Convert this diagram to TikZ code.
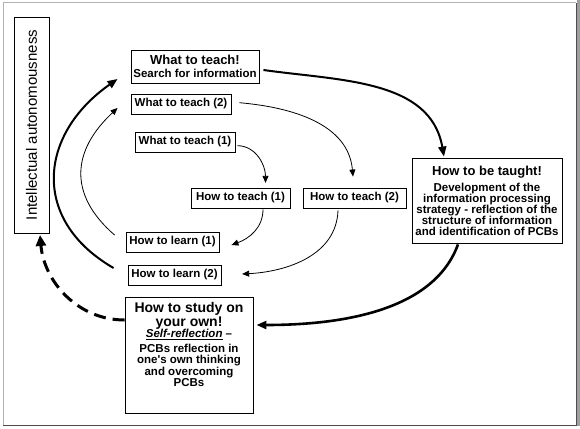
\documentclass[tikz,border=0pt]{standalone}
\usepackage{fontspec}
\setmainfont{Liberation Sans}
\usetikzlibrary{arrows.meta}
\begin{document}
\begin{tikzpicture}[x=1pt,y=1pt,
  box/.style={draw, line width=0.9pt, inner sep=0pt, align=center,
    font=\fontsize{11.5}{12.5}\selectfont\bfseries},
  thinarrow/.style={line width=0.8pt, -{Triangle[length=7pt,width=6pt]}},
  thickarrow/.style={line width=2pt, -{Triangle[length=10pt,width=8pt]}},
  dasharrow/.style={line width=3pt, dash pattern=on 12pt off 7pt, -{Triangle[length=11pt,width=10pt]}}]
\useasboundingbox (0,0) rectangle (580,-428);
% frame
\fill[gray!75] (576.5,0) rectangle (580,-426);
\draw[gray!60, line width=1pt] (3,-425) -- (3,-3) -- (576,-3);
\draw[black!70, line width=1pt] (3,-425) -- (576,-425) -- (576,-3);
% nodes
\node[draw, line width=0.9pt, rotate=90, minimum width=216pt, minimum height=35pt, inner sep=0pt,
  font=\fontsize{15}{17}\selectfont] (ia) at (31.5,-125) {Intellectual autonomousness};
\node[box, minimum width=128pt, minimum height=33pt] (wt0) at (195,-66.5)
  {{\fontsize{13}{14}\selectfont What to teach!}\\Search for information};
\node[box, minimum width=100pt, minimum height=20pt] (wt2) at (181,-104) {What to teach (2)};
\node[box, minimum width=100pt, minimum height=20pt] (wt1) at (185,-142) {What to teach (1)};
\node[box, minimum width=99pt, minimum height=20pt] (ht1) at (240.5,-198) {How to teach (1)};
\node[box, minimum width=103pt, minimum height=20pt] (ht2) at (354.5,-198) {How to teach (2)};
\node[box, minimum width=93pt, minimum height=20pt] (hl1) at (172.5,-242) {How to learn (1)};
\node[box, minimum width=93pt, minimum height=20pt] (hl2) at (174.5,-275) {How to learn (2)};
\node[box, minimum width=150pt, minimum height=85pt, font=\fontsize{11.5}{11}\selectfont\bfseries] (hbt) at (487,-200.5)
  {{\fontsize{13}{14}\selectfont How to be taught!}\\[4pt]Development of the\\information processing\\strategy - reflection of the\\structure of information\\and identification of PCBs};
\node[draw, line width=0.9pt, inner sep=0pt, minimum width=128pt, minimum height=116pt] (hso) at (189,-355)
  {\parbox[t][110pt][t]{126pt}{\centering\bfseries\vspace*{2pt}
   \fontsize{14}{14}\selectfont How to study on\\ your own!\par
   \fontsize{11.5}{11.5}\selectfont \underline{\textit{Self-reflection}} --\\[3pt]
   PCBs reflection in\\ one\textquotesingle s own thinking\\ and overcoming\\ PCBs\par}};
% connectors
\draw[thickarrow] ([xshift=4pt,yshift=-3.5pt]wt0.east) to[out=-8,in=100] ([xshift=-43pt,yshift=1pt]hbt.north);
\draw[thinarrow] ([xshift=8pt,yshift=1.3pt]wt2.east) to[out=-5,in=95] ([xshift=-1.5pt,yshift=11pt]ht2.north);
\draw[thinarrow] ([xshift=2pt,yshift=-3.7pt]wt1.east) to[out=0,in=90] ([xshift=25pt,yshift=4.7pt]ht1.north);
\draw[thinarrow] ([xshift=22.5pt,yshift=-1pt]ht1.south) to[out=-90,in=20] ([xshift=12pt,yshift=-3pt]hl1.east);
\draw[thinarrow] ([xshift=-16.5pt,yshift=-2pt]ht2.south) to[out=-92,in=3] ([xshift=20.7pt,yshift=1pt]hl2.east);
\draw[thinarrow] ([xshift=-11pt,yshift=7pt]hl1.west) to[out=139,in=223,looseness=1.25] ([xshift=-13pt,yshift=-4pt]wt2.west);
\draw[thickarrow] ([xshift=-14pt,yshift=7pt]hl2.west) to[out=150,in=-145,looseness=1.3] ([xshift=-13pt,yshift=-12.5pt]wt0.west);
\draw[thickarrow, line width=2.6pt] ([xshift=-29pt,yshift=-1pt]hbt.south) to[out=-110,in=0,out looseness=0.7,in looseness=1.3] ([xshift=3pt,yshift=30pt]hso.east);
\draw[dasharrow] ([yshift=35pt]hso.west) to[out=180,in=-85] ([xshift=8.5pt,yshift=-1.5pt]ia.west);
\end{tikzpicture}
\end{document}
